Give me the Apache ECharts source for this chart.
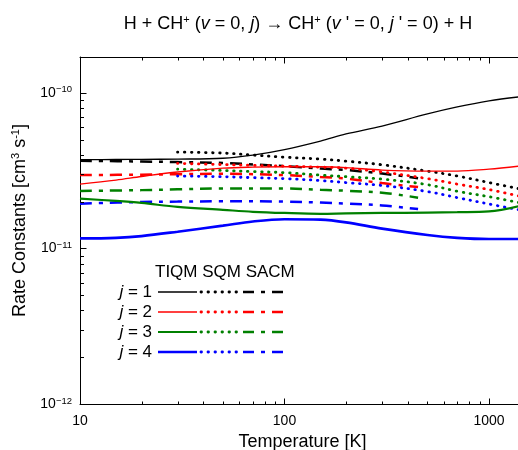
<!DOCTYPE html>
<html>
<head>
<meta charset="utf-8">
<script src="https://cdn.jsdelivr.net/npm/echarts@6/dist/echarts.min.js"></script>
<style>html,body{margin:0;padding:0;background:#fff}#c{width:518px;height:450px}</style>
</head>
<body>
<div id="c"></div>
<script>
// Temperatures [K]
const T_TIQM = [10, 15, 20, 30, 50, 70, 100, 150, 200, 300, 500, 700, 1000, 1400];
const T_SQM  = [30, 50, 70, 100, 150, 200, 300, 500, 700, 1000, 1400];
const T_SACM = [10, 20, 30, 50, 100, 150, 200, 300, 450];
// Rate constants in units of 1e-11 cm^3 s^-1
const TIQM_j1 = [3.72, 3.73, 3.74, 3.75, 3.80, 3.98, 4.32, 4.90, 5.44, 6.12, 7.32, 8.12, 8.88, 9.42];
const TIQM_j2 = [2.59, 2.75, 2.90, 3.10, 3.28, 3.33, 3.35, 3.35, 3.31, 3.19, 3.14, 3.14, 3.23, 3.38];
const TIQM_j3 = [2.09, 2.02, 1.96, 1.85, 1.77, 1.72, 1.69, 1.67, 1.68, 1.69, 1.70, 1.71, 1.73, 1.87];
const TIQM_j4 = [1.16, 1.17, 1.20, 1.28, 1.40, 1.49, 1.54, 1.53, 1.47, 1.34, 1.22, 1.17, 1.15, 1.15];
const SQM_j1 = [4.16, 4.10, 3.98, 3.86, 3.75, 3.64, 3.45, 3.14, 2.92, 2.65, 2.42];
const SQM_j2 = [3.52, 3.46, 3.42, 3.38, 3.33, 3.28, 3.10, 2.81, 2.59, 2.39, 2.17];
const SQM_j3 = [3.23, 3.17, 3.12, 3.07, 2.96, 2.89, 2.79, 2.57, 2.33, 2.15, 1.97];
const SQM_j4 = [2.92, 2.89, 2.85, 2.81, 2.73, 2.65, 2.54, 2.32, 2.12, 1.93, 1.77];
const SACM_j1 = [3.66, 3.62, 3.59, 3.54, 3.38, 3.26, 3.19, 3.03, 2.83];
const SACM_j2 = [2.96, 2.98, 3.00, 3.02, 2.96, 2.88, 2.81, 2.63, 2.48];
const SACM_j3 = [2.34, 2.37, 2.40, 2.43, 2.43, 2.38, 2.35, 2.28, 2.12];
const SACM_j4 = [1.94, 1.99, 2.00, 2.01, 2.00, 1.97, 1.94, 1.89, 1.79];
// Axis ticks
const X_MIN = 10, X_MAX = 1500, Y_MIN = 1e-12, Y_MAX = 1.7e-10;
const xMajorTicks = [10, 100, 1000];
const xMinorTicks = [20,30,40,50,60,70,80,90,200,300,400,500,600,700,800,900];
const yMajorTicks = [1e-12, 1e-11, 1e-10];
const yMinorTicks = [2e-12,3e-12,4e-12,5e-12,6e-12,7e-12,8e-12,9e-12,2e-11,3e-11,4e-11,5e-11,6e-11,7e-11,8e-11,9e-11];
const jLabels = ['1', '2', '3', '4'];
const methodNames = ['TIQM', 'SQM', 'SACM'];

const FONT = '"Liberation Sans", Arial, sans-serif';
const colors = ['#000000', '#ff0000', '#008000', '#0000ff'];
const solidWidths = [1.3, 1.3, 2.2, 2.7];
const DOT = [0.5, 6.5];
const DASHDOT = [12, 7, 4, 7];

const lg = Math.log10;
const toPairs = (T, v) => T.map((t, i) => [t, v[i] * 1e-11]);

const tiqm = [TIQM_j1, TIQM_j2, TIQM_j3, TIQM_j4];
const sqm = [SQM_j1, SQM_j2, SQM_j3, SQM_j4];
const sacm = [SACM_j1, SACM_j2, SACM_j3, SACM_j4];

const series = [];
for (let j = 0; j < 4; j++) {
  series.push({ name: 'TIQM j=' + jLabels[j], type: 'line', data: toPairs(T_TIQM, tiqm[j]), smooth: 0.35, showSymbol: false,
    lineStyle: { color: colors[j], width: solidWidths[j] }, xAxisIndex: 0, yAxisIndex: 0, z: 3 });
  series.push({ name: 'SQM j=' + jLabels[j], type: 'line', data: toPairs(T_SQM, sqm[j]), smooth: 0.35, showSymbol: false,
    lineStyle: { color: colors[j], width: 2.8, type: DOT, cap: 'round' }, xAxisIndex: 0, yAxisIndex: 0, z: 2 });
  series.push({ name: 'SACM j=' + jLabels[j], type: 'line', data: toPairs(T_SACM, sacm[j]), smooth: 0.35, showSymbol: false,
    lineStyle: { color: colors[j], width: 2.5, type: DASHDOT }, xAxisIndex: 0, yAxisIndex: 0, z: 2 });
}

// Tick marks (inside, bottom/top/left) placed through the log axes' own scales
function xTickSeries(vals, len) {
  return {
    type: 'custom', xAxisIndex: 0, yAxisIndex: 0, silent: true, z: 5, clip: false,
    data: vals.map(v => [v, Y_MIN]),
    renderItem: (params, api) => {
      const x = Math.round(api.coord([api.value(0), Y_MIN])[0]) + 0.5;
      const yb = Math.round(api.coord([X_MIN, Y_MIN])[1]) + 0.5;
      const yt = Math.round(api.coord([X_MIN, Y_MAX])[1]) + 0.5;
      const st = { stroke: '#000', lineWidth: 1 };
      return { type: 'group', children: [
        { type: 'line', shape: { x1: x, y1: yb, x2: x, y2: yb - len }, style: st },
        { type: 'line', shape: { x1: x, y1: yt, x2: x, y2: yt + len }, style: st }
      ] };
    }
  };
}
function yTickSeries(vals, len) {
  return {
    type: 'custom', xAxisIndex: 0, yAxisIndex: 0, silent: true, z: 5, clip: false,
    data: vals.map(v => [X_MIN, v]),
    renderItem: (params, api) => {
      const y = Math.round(api.coord([X_MIN, api.value(1)])[1]) + 0.5;
      const xl = Math.round(api.coord([X_MIN, Y_MIN])[0]) + 0.5;
      return { type: 'line', shape: { x1: xl, y1: y, x2: xl + len, y2: y }, style: { stroke: '#000', lineWidth: 1 } };
    }
  };
}
series.push(xTickSeries(xMajorTicks, 6), xTickSeries(xMinorTicks, 3), yTickSeries(yMajorTicks, 6), yTickSeries(yMinorTicks, 3.5));

const lineStyleAxis = { color: '#000', width: 1 };
function frameAxis(type, position, extra) {
  const isX = type === 'x';
  const a = {
    type: 'value', gridIndex: 0, position: position,
    min: isX ? lg(X_MIN) : lg(Y_MIN), max: isX ? lg(X_MAX) : lg(Y_MAX),
    axisLine: { show: true, onZero: false, lineStyle: lineStyleAxis },
    axisTick: { show: false },
    axisLabel: { show: false },
    splitLine: { show: false }
  };
  return Object.assign(a, extra || {});
}

const option = {
  animation: false,
  textStyle: { fontFamily: FONT },
  grid: { left: 80, top: 57, width: 445, height: 347, containLabel: false, outerBoundsMode: 'none' },
  xAxis: [
    { type: 'log', logBase: 10, min: X_MIN, max: X_MAX, show: false, gridIndex: 0 },
    frameAxis('x', 'bottom', {
      axisLabel: { show: true, customValues: xMajorTicks.map(lg), margin: 10, color: '#000', fontSize: 14, fontFamily: FONT,
        formatter: v => String(Math.round(Math.pow(10, v))) },
      name: 'Temperature [K]', nameLocation: 'middle', nameGap: 27,
      nameTextStyle: { fontSize: 18, color: '#000', fontFamily: FONT }
    }),
    frameAxis('x', 'top')
  ],
  yAxis: [
    { type: 'log', logBase: 10, min: Y_MIN, max: Y_MAX, show: false, gridIndex: 0 },
    frameAxis('y', 'left', {
      axisLabel: { show: true, customValues: yMajorTicks.map(lg), margin: 8, color: '#000', fontFamily: FONT,
        formatter: v => '{b|10}{s|\u2212' + Math.round(-v) + '}',
        rich: { b: { fontSize: 14, fontFamily: FONT, color: '#000', lineHeight: 16 },
                s: { fontSize: 9.5, fontFamily: FONT, color: '#000', verticalAlign: 'top', lineHeight: 16, padding: [0, 0, 7, 0] } } },
      name: 'Rate Constants [cm{sup|3} s{sup|-1}]', nameLocation: 'middle', nameGap: 31,
      nameTextStyle: { fontSize: 18, color: '#000', fontFamily: FONT, padding: [0, 0, 0, 20],
        rich: { sup: { fontSize: 11, fontFamily: FONT, color: '#000', verticalAlign: 'top', padding: [0, 0, 8, 0] } } }
    })
  ],
  series: series,
  graphic: []
};

// Title
option.graphic.push({
  type: 'text', x: 298, y: 24,
  style: {
    text: 'H + CH{sup|+} ({it|v} = 0, {it|j}) \u2192 CH{sup|+} ({it|v} \' = 0, {it|j} \' = 0) + H',
    font: '18px ' + FONT, fill: '#000', align: 'center', verticalAlign: 'middle',
    rich: {
      it: { fontStyle: 'italic', fontSize: 18, fontFamily: FONT, fill: '#000' },
      sup: { fontSize: 11, fontFamily: FONT, verticalAlign: 'top', padding: [0, 0, 8, 0], fill: '#000' }
    }
  }
});

// Legend block
option.graphic.push({
  type: 'text', x: 155, y: 272,
  style: { text: methodNames.join(' '), font: '17px ' + FONT, fill: '#000', verticalAlign: 'middle', align: 'left' }
});
const legendStyles = [
  j => ({ stroke: colors[j], lineWidth: solidWidths[j] }),
  j => ({ stroke: colors[j], lineWidth: 2.8, lineDash: DOT, lineCap: 'round' }),
  j => ({ stroke: colors[j], lineWidth: 2.5, lineDash: [11, 7, 4, 7] })
];
const legendX = [[158, 197], [201, 238], [243, 283]];
for (let j = 0; j < 4; j++) {
  const yy = 292 + 20 * j;
  option.graphic.push({
    type: 'text', x: 152, y: yy,
    style: { text: '{it|j} = ' + jLabels[j], font: '17px ' + FONT, fill: '#000', align: 'right', verticalAlign: 'middle',
      rich: { it: { fontStyle: 'italic', fontSize: 17, fontFamily: FONT, fill: '#000' } } }
  });
  for (let m = 0; m < 3; m++) {
    option.graphic.push({
      type: 'line', shape: { x1: legendX[m][0], y1: yy, x2: legendX[m][1], y2: yy },
      style: legendStyles[m](j)
    });
  }
}

const chart = echarts.init(document.getElementById('c'), null, { renderer: 'canvas' });
chart.setOption(option);
</script>
</body>
</html>
